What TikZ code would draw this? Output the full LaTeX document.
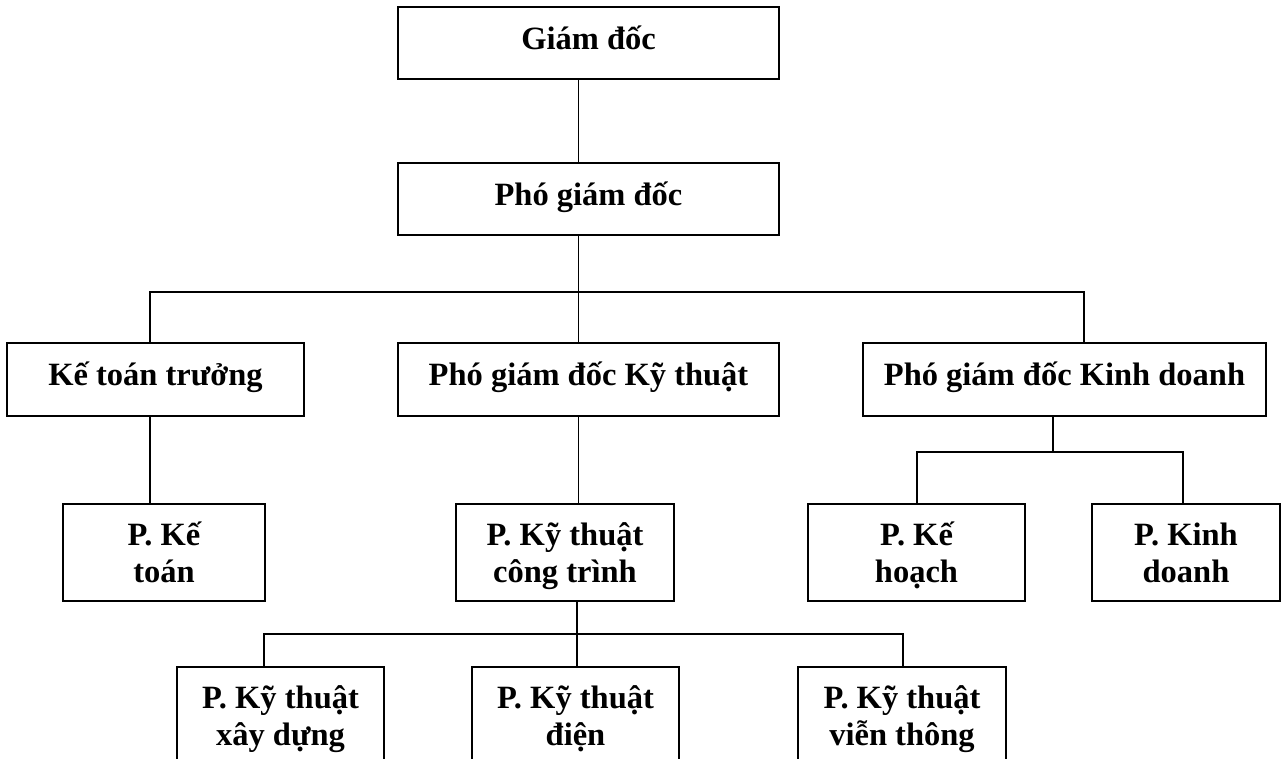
\documentclass[tikz,border=0pt]{standalone}
\usepackage{fontspec}
\setmainfont{Liberation Serif}
\newcommand{\topst}{\rule{0pt}{30pt}}
\newcommand{\botst}{\rule[-8pt]{0pt}{8pt}}
\begin{document}
\begin{tikzpicture}[x=1pt,y=-1pt,
  box/.style={draw=black, line width=1.8pt, rectangle, inner sep=0pt, align=center,
    font=\bfseries\fontsize{32.5}{37}\selectfont},
  one/.style={text height=22pt, text depth=9.5pt},
  link/.style={draw=black, line width=1.5pt}]
\fill[white] (0,0) rectangle (1284,759);
\useasboundingbox (0,0) rectangle (1284,759);
\clip (0,0) rectangle (1284,759);

% row 1-2
\node[box, one, minimum width=381pt, minimum height=72pt] (gd)  at (588.5,43)  {Giám đốc};
\node[box, one, minimum width=381pt, minimum height=72pt] (pgd) at (588.5,199) {Phó giám đốc};
% row 3
\node[box, one, minimum width=297pt, minimum height=73pt] (ktt)   at (155.5,379.5)  {Kế toán trưởng};
\node[box, one, minimum width=381pt, minimum height=73pt] (pgdkt) at (588.5,379.5)  {Phó giám đốc Kỹ thuật};
\node[box, one, minimum width=403pt, minimum height=73pt] (pgdkd) at (1064.5,379.5) {Phó giám đốc Kinh doanh};
% row 4
\node[box, minimum width=202pt, minimum height=97pt] (pkt)   at (164,552.5)   {\topst P. Kế\\toán\botst};
\node[box, minimum width=218pt, minimum height=97pt] (pktct) at (565,552.5)   {\topst P. Kỹ thuật\\công trình\botst};
\node[box, minimum width=217pt, minimum height=97pt] (pkh)   at (916.5,552.5) {\topst P. Kế\\hoạch\botst};
\node[box, minimum width=188pt, minimum height=97pt] (pkd)   at (1186,552.5)  {\topst P. Kinh\\doanh\botst};
% row 5
\node[box, minimum width=207pt, minimum height=97pt] (pxd)   at (280.5,715.5) {\topst P. Kỹ thuật\\xây dựng\botst};
\node[box, minimum width=207pt, minimum height=97pt] (pdien) at (575.5,715.5) {\topst P. Kỹ thuật\\điện\botst};
\node[box, minimum width=208pt, minimum height=97pt] (pvt)   at (902,715.5)   {\topst P. Kỹ thuật\\viễn thông\botst};

% connector points
\coordinate (t1)   at (578.5,292);
\coordinate (busL) at (150,292);
\coordinate (busR) at (1084,292);
\coordinate (k1)   at (150,0);
\coordinate (b2)   at (577,634);
\coordinate (b2L)  at (264,634);
\coordinate (b2R)  at (903,634);
\coordinate (b3)   at (1053,452);
\coordinate (b3L)  at (917,452);
\coordinate (b3R)  at (1183,452);

\draw[link] (gd.south -| t1) -- (pgd.north -| t1);
\draw[link] (pgd.south -| t1) -- (t1) -- (pgdkt.north -| t1);
\draw[link] (ktt.north -| busL) -- (busL) -- (busR) -- (pgdkd.north -| busR);
\draw[link] (ktt.south -| k1) -- (pkt.north -| k1);
\draw[link] (pgdkt.south -| t1) -- (pktct.north -| t1);
\draw[link] (pktct.south -| b2) -- (b2) -- (pdien.north -| b2);
\draw[link] (pxd.north -| b2L) -- (b2L) -- (b2R) -- (pvt.north -| b2R);
\draw[link] (pgdkd.south -| b3) -- (b3);
\draw[link] (pkh.north -| b3L) -- (b3L) -- (b3R) -- (pkd.north -| b3R);
\end{tikzpicture}
\end{document}
